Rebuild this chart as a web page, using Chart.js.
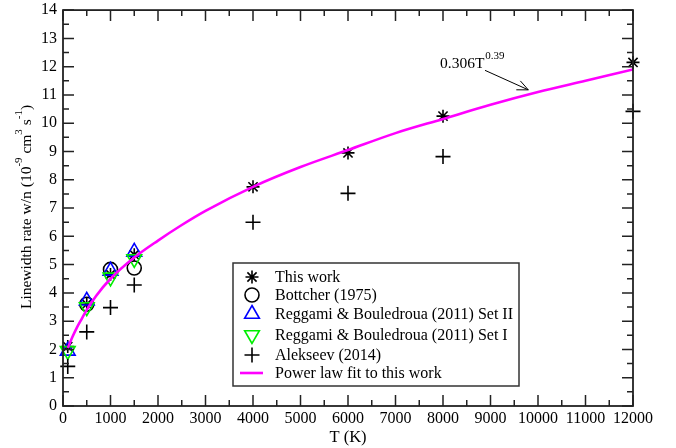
<!DOCTYPE html>
<html>
<head>
<meta charset="utf-8">
<script src="https://cdn.jsdelivr.net/npm/chart.js@4"></script>
<style>
  html, body { margin: 0; padding: 0; background: #fff; }
  #wrap { width: 676px; height: 448px; }
</style>
</head>
<body>
<div id="wrap"><canvas id="chart" width="676" height="448"></canvas></div>
<script>
// values
const thisWorkT = [100, 500, 1000, 1500, 4000, 6000, 8000, 12000];
const thisWorkW = [2.1, 3.6, 4.65, 5.35, 7.75, 8.95, 10.25, 12.15];

const bottcherT = [500, 1000, 1500];
const bottcherW = [3.6, 4.83, 4.88];

const setIIT = [100, 500, 1000, 1500];
const setIIW = [1.95, 3.72, 4.78, 5.45];

const setIT = [100, 500, 1000, 1500];
const setIW = [1.95, 3.5, 4.55, 5.2];

const alekseevT = [100, 500, 1000, 1500, 4000, 6000, 8000, 12000];
const alekseevW = [1.4, 2.62, 3.48, 4.28, 6.5, 7.52, 8.82, 10.42];

// power law curve as traced on the figure
const fitT = [100, 200, 300, 400, 500, 700, 1000, 1500, 2000, 2500, 3000, 4000, 5000, 6000, 7000, 8000, 9000, 10000, 11000, 12000];
const fitW = [2.05, 2.45, 2.8, 3.1, 3.4, 3.9, 4.5, 5.25, 5.85, 6.4, 6.9, 7.75, 8.45, 9.05, 9.65, 10.15, 10.65, 11.1, 11.5, 11.9];

const xTicks = [0, 1000, 2000, 3000, 4000, 5000, 6000, 7000, 8000, 9000, 10000, 11000, 12000];
const yTicks = [0, 1, 2, 3, 4, 5, 6, 7, 8, 9, 10, 11, 12, 13, 14];

const legendLabels = ["This work", "Bottcher (1975)", "Reggami & Bouledroua (2011) Set II",
  "Reggami & Bouledroua (2011) Set I", "Alekseev (2014)", "Power law fit to this work"];

// annotation: text anchor and arrow (in data units)
const noteText = "0.306T";
const noteSup = "0.39";
const noteAt = [7937, 11.97];
const arrowFrom = [8884, 11.87];
const arrowTo = [9796, 11.18];

const SERIF = "'Liberation Serif', 'Times New Roman', serif";

function pts(xs, ys) {
  return xs.map((x, i) => ({ x: x, y: ys[i] }));
}

const datasets = [
  { label: legendLabels[0], data: pts(thisWorkT, thisWorkW), pointStyle: 'star', pointRadius: 6.5,
    borderColor: '#000', backgroundColor: '#000', pointBorderWidth: 1.6, showLine: false, order: 5, clip: false },
  { label: legendLabels[1], data: pts(bottcherT, bottcherW), pointStyle: 'circle', pointRadius: 7,
    borderColor: '#000', backgroundColor: 'rgba(0,0,0,0)', pointBorderWidth: 1.6, showLine: false, order: 4, clip: false },
  { label: legendLabels[2], data: pts(setIIT, setIIW), pointStyle: 'triangle', pointRadius: 8.5,
    borderColor: '#0000ff', backgroundColor: 'rgba(0,0,0,0)', pointBorderWidth: 1.6, showLine: false, order: 3, clip: false },
  { label: legendLabels[3], data: pts(setIT, setIW), pointStyle: 'triangle', pointRotation: 180, pointRadius: 8.5,
    borderColor: '#00ee00', backgroundColor: 'rgba(0,0,0,0)', pointBorderWidth: 1.6, showLine: false, order: 2, clip: false },
  { label: legendLabels[4], data: pts(alekseevT, alekseevW), pointStyle: 'cross', pointRadius: 7.5,
    borderColor: '#000', backgroundColor: '#000', pointBorderWidth: 1.6, showLine: false, order: 1, clip: false },
  { label: legendLabels[5], data: pts(fitT, fitW), showLine: true, pointRadius: 0, borderColor: '#ff00ff',
    borderWidth: 2.6, cubicInterpolationMode: 'monotone', fill: false, order: 0 }
];

// frame + inward ticks on all four sides
const framePlugin = {
  id: 'frame',
  afterDatasetsDraw(chart) {
    const { ctx, chartArea: a, scales: { x, y } } = chart;
    ctx.save();
    ctx.strokeStyle = '#222';
    ctx.lineWidth = 1.5;
    ctx.beginPath();
    for (let t = 0; t <= 12000; t += 500) {
      const px = x.getPixelForValue(t);
      const len = t % 1000 === 0 ? 11 : 6;
      ctx.moveTo(px, a.bottom); ctx.lineTo(px, a.bottom - len);
      ctx.moveTo(px, a.top); ctx.lineTo(px, a.top + len);
    }
    for (let v = 0; v <= 14; v += 0.5) {
      const py = y.getPixelForValue(v);
      const len = v % 1 === 0 ? 11 : 6;
      ctx.moveTo(a.left, py); ctx.lineTo(a.left + len, py);
      ctx.moveTo(a.right, py); ctx.lineTo(a.right - len, py);
    }
    ctx.stroke();
    ctx.lineWidth = 1.8;
    ctx.strokeRect(a.left, a.top, a.right - a.left, a.bottom - a.top);
    ctx.restore();
  }
};

// y title with superscripts, annotation, legend box
const extrasPlugin = {
  id: 'extras',
  afterDraw(chart) {
    const { ctx, scales: { x, y } } = chart;
    ctx.save();
    ctx.fillStyle = '#000';

    // y axis title
    const parts = [["Linewidth rate w/n (10", 0], ["-9", 1], [" cm", 0], ["3", 1], [" s", 0], ["-1", 1], [")", 0]];
    const mainF = "15.5px " + SERIF, supF = "11px " + SERIF;
    let total = 0;
    parts.forEach(p => { ctx.font = p[1] ? supF : mainF; total += ctx.measureText(p[0]).width; });
    ctx.translate(31, 207);
    ctx.rotate(-Math.PI / 2);
    let cx = -total / 2;
    ctx.textBaseline = 'alphabetic';
    parts.forEach(p => {
      ctx.font = p[1] ? supF : mainF;
      ctx.fillText(p[0], cx, p[1] ? -9 : 0);
      cx += ctx.measureText(p[0]).width;
    });
    ctx.setTransform(1, 0, 0, 1, 0, 0);

    // annotation
    const tx = x.getPixelForValue(noteAt[0]), ty = y.getPixelForValue(noteAt[1]);
    ctx.font = "15.5px " + SERIF;
    ctx.fillText(noteText, tx, ty);
    const w = ctx.measureText(noteText).width;
    ctx.font = "11px " + SERIF;
    ctx.fillText(noteSup, tx + w + 1, ty - 9);

    const ax0 = x.getPixelForValue(arrowFrom[0]), ay0 = y.getPixelForValue(arrowFrom[1]);
    const ax1 = x.getPixelForValue(arrowTo[0]), ay1 = y.getPixelForValue(arrowTo[1]);
    const ang = Math.atan2(ay1 - ay0, ax1 - ax0);
    ctx.strokeStyle = '#000';
    ctx.lineWidth = 1;
    ctx.beginPath();
    ctx.moveTo(ax0, ay0); ctx.lineTo(ax1, ay1);
    [0.42, -0.42].forEach(d => {
      ctx.moveTo(ax1, ay1);
      ctx.lineTo(ax1 - 12 * Math.cos(ang + d), ay1 - 12 * Math.sin(ang + d));
    });
    ctx.stroke();

    // legend
    const box = { l: 233, t: 263, r: 519, b: 386 };
    const rowY = [277, 295, 314, 335, 355, 373];
    ctx.strokeStyle = '#333';
    ctx.lineWidth = 1.5;
    ctx.strokeRect(box.l, box.t, box.r - box.l, box.b - box.t);
    ctx.font = "16px " + SERIF;
    ctx.textBaseline = 'middle';
    chart.data.datasets.forEach((ds, i) => {
      const yy = rowY[i];
      if (ds.showLine) {
        ctx.strokeStyle = ds.borderColor;
        ctx.lineWidth = 2.6;
        ctx.beginPath(); ctx.moveTo(240, yy); ctx.lineTo(263, yy); ctx.stroke();
      } else {
        ctx.strokeStyle = ds.borderColor;
        ctx.fillStyle = ds.backgroundColor;
        ctx.lineWidth = ds.pointBorderWidth;
        Chart.helpers.drawPoint(ctx, { pointStyle: ds.pointStyle, rotation: ds.pointRotation || 0,
          radius: ds.pointRadius, borderWidth: ds.pointBorderWidth }, 252, yy);
      }
      ctx.fillStyle = '#000';
      ctx.fillText(ds.label, 275, yy + 1);
    });
    ctx.restore();
  }
};

new Chart(document.getElementById('chart'), {
  type: 'scatter',
  data: { datasets: datasets },
  options: {
    responsive: false,
    animation: false,
    devicePixelRatio: 1,
    layout: { padding: { top: 6, right: 43, left: 0, bottom: 0 } },
    plugins: { legend: { display: false }, tooltip: { enabled: false } },
    scales: {
      x: {
        type: 'linear', min: 0, max: 12000,
        afterFit: s => { s.height = 42; s.paddingLeft = 0; s.paddingRight = 0; },
        afterBuildTicks: s => { s.ticks = xTicks.map(v => ({ value: v })); },
        grid: { display: false, drawTicks: false },
        border: { display: false },
        ticks: { color: '#000', padding: 3, maxRotation: 0, autoSkip: false,
          callback: v => String(v), font: { family: SERIF, size: 16 } },
        title: { display: true, text: 'T (K)', color: '#000', padding: { top: 0, bottom: 0 },
          font: { family: SERIF, size: 16.5 } }
      },
      y: {
        type: 'linear', min: 0, max: 14,
        afterFit: s => { s.width = 63; s.paddingTop = 0; s.paddingBottom = 0; },
        afterBuildTicks: s => { s.ticks = yTicks.map(v => ({ value: v })); },
        grid: { display: false, drawTicks: false },
        border: { display: false },
        ticks: { color: '#000', padding: 6, autoSkip: false,
          callback: v => String(v), font: { family: SERIF, size: 16 } }
      }
    }
  },
  plugins: [framePlugin, extrasPlugin]
});
</script>
</body>
</html>
